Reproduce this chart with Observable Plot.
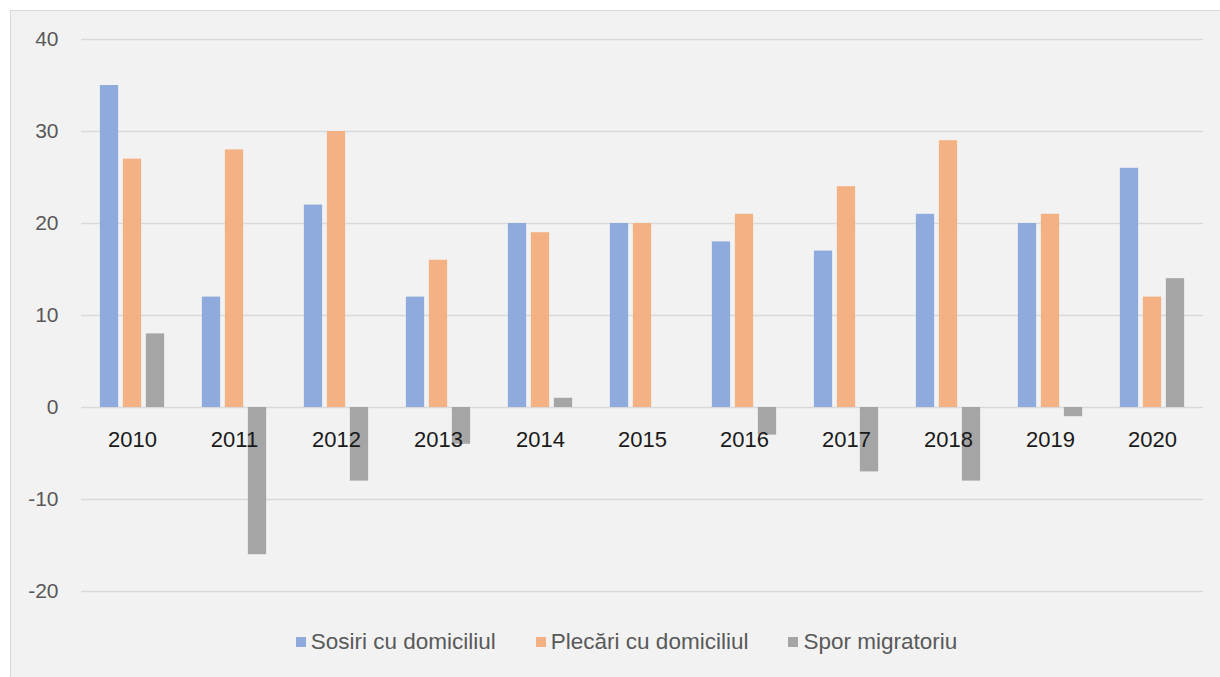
<!DOCTYPE html>
<html>
<head>
<meta charset="utf-8">
<script src="https://cdn.jsdelivr.net/npm/d3@7"></script>
<script src="https://cdn.jsdelivr.net/npm/@observablehq/plot@0.6"></script>
<style>
  html, body { margin: 0; padding: 0; background: #ffffff; }
  body { width: 1220px; height: 677px; overflow: hidden; position: relative; }
  #frame {
    position: absolute; left: 10px; top: 10px; width: 1210px; height: 667px;
    background: #f2f2f2; border-left: 1.5px solid #d9d9d9; border-top: 1.5px solid #d9d9d9;
    box-sizing: border-box; font-family: "Liberation Sans", Arial, sans-serif;
  }
  #chart svg { display: block; background: transparent; }
  #legend {
    display: flex; justify-content: center; align-items: center;
    padding-top: 12px; height: 22px; line-height: 22px; font-size: 22.5px; color: #595959;
    margin-left: 22px;
  }
  .item { display: flex; align-items: center; margin: 0 20px; }
  .sw { width: 10px; height: 10px; margin-right: 5px; }
</style>
</head>
<body>
<div id="frame">
  <div id="chart"></div>
  <div id="legend"></div>
</div>
<script>
const years = ["2010","2011","2012","2013","2014","2015","2016","2017","2018","2019","2020"];
const seriesNames = ["Sosiri cu domiciliul", "Plecări cu domiciliul", "Spor migratoriu"];
const sosiri = [35, 12, 22, 12, 20, 20, 18, 17, 21, 20, 26];
const plecari = [27, 28, 30, 16, 19, 20, 21, 24, 29, 21, 12];
const spor = [8, -16, -8, -4, 1, 0, -3, -7, -8, -1, 14];
const yTicks = [-20, -10, 0, 10, 20, 30, 40];
const colors = ["#8faadc", "#f4b183", "#a5a5a5"];

const seriesValues = [sosiri, plecari, spor];
const rows = seriesValues.map(vals => years.map((y, i) => ({year: y, value: vals[i]})));

// bars in a 64px band: width 18, gap 5
const insets = [[0, 46], [23, 23], [46, 0]];

const chart = Plot.plot({
  width: 1208,
  height: 608,
  marginLeft: 70,
  marginRight: 16,
  marginTop: 28,
  marginBottom: 28,
  style: {background: "transparent", fontFamily: "'Liberation Sans', Arial, sans-serif"},
  x: {domain: years, paddingInner: 0.37, paddingOuter: 0.185, round: false, axis: null},
  y: {domain: [-20, 40]},
  marks: [
    Plot.ruleY(yTicks, {stroke: "#d9d9d9", strokeWidth: 1.5}),
    ...rows.map((data, k) => Plot.barY(data, {
      x: "year", y: "value", fill: colors[k],
      insetLeft: insets[k][0], insetRight: insets[k][1]
    })),
    Plot.axisY(yTicks, {tickSize: 0, tickPadding: 23, fontSize: 21, color: "#595959", label: null, tickFormat: d => String(d)}),
    Plot.text(years, {x: d => d, y: () => 0, dy: 32, fontSize: 22, fill: "#1a1a1a"})
  ]
});
document.getElementById("chart").appendChild(chart);

const legend = document.getElementById("legend");
seriesNames.forEach((name, k) => {
  const item = document.createElement("div");
  item.className = "item";
  const sw = document.createElement("span");
  sw.className = "sw";
  sw.style.background = colors[k];
  const t = document.createElement("span");
  t.textContent = name;
  item.appendChild(sw);
  item.appendChild(t);
  legend.appendChild(item);
});
</script>
</body>
</html>
